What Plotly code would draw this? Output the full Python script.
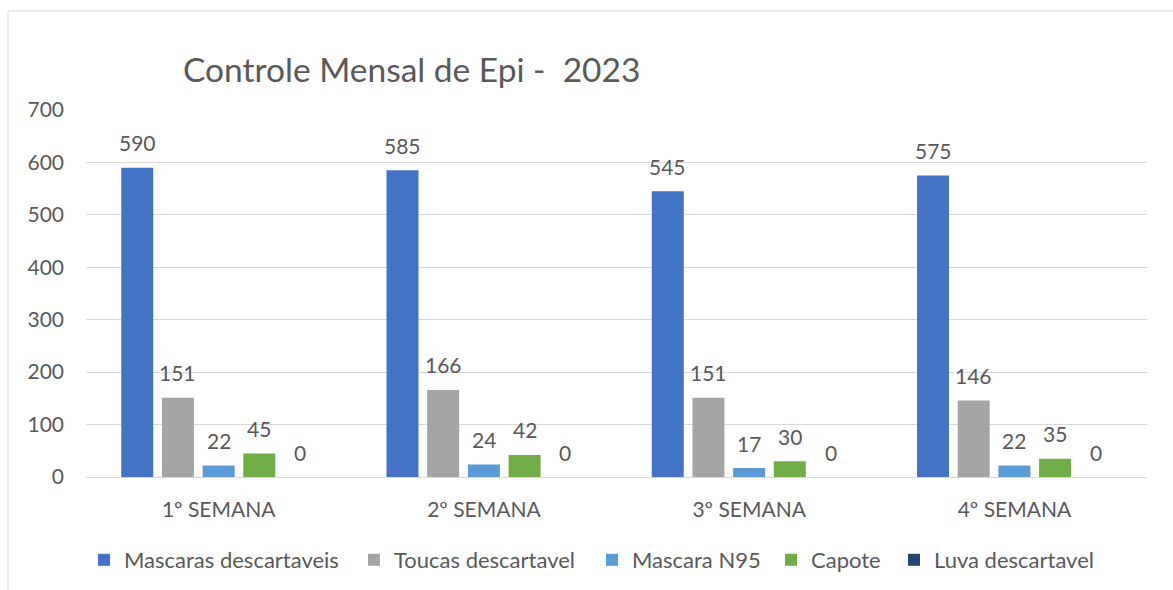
import plotly.graph_objects as go

categories = ["1º SEMANA", "2º SEMANA", "3º SEMANA", "4º SEMANA"]
series_names = ["Mascaras descartaveis", "Toucas descartavel", "Mascara N95", "Capote", "Luva descartavel"]
mascaras = [590, 585, 545, 575]
toucas = [151, 166, 151, 146]
n95 = [22, 24, 17, 22]
capote = [45, 42, 30, 35]
luva = [0, 0, 0, 0]
y_ticks = [0, 100, 200, 300, 400, 500, 600, 700]

colors = ["#4472C4", "#A5A5A5", "#5B9BD5", "#70AD47", "#264478"]
values = [mascaras, toucas, n95, capote, luva]

W, H = 1173, 590
ML, MR, MT, MB = 86, 26, 110, 113
BARGAP = 0.233
BARGROUPGAP = 0.214
FONT = "Lato"
TXT = "#595959"
legend_px = [98, 368, 606, 785, 908]   # left pixel of each legend entry
LEG_OFF = 14

fig = go.Figure()
for i, (name, vals, col) in enumerate(zip(series_names, values, colors)):
    fig.add_trace(go.Bar(name=name, x=categories, y=vals, marker_color=col,
                         marker_line_width=0, showlegend=True,
                         legend="legend" if i == 0 else f"legend{i + 1}"))

plot_w = W - ML - MR
cat_px = plot_w / len(categories)
slot_px = cat_px * (1 - BARGAP) / len(series_names)
n = len(series_names)
for i, vals in enumerate(values):
    for c, v in zip(categories, vals):
        fig.add_annotation(x=c, y=v, text=str(v), showarrow=False,
                           xshift=(i - (n - 1) / 2) * slot_px, yshift=25,
                           yanchor="middle",
                           font=dict(family=FONT, size=21, color=TXT))

fig.add_shape(type="rect", xref="paper", yref="paper",
              x0=(8 - ML) / plot_w, x1=1.2,
              y0=-0.5, y1=(H - MB - 11) / (H - MT - MB),
              line=dict(color="#D9D9D9", width=1), fillcolor="rgba(0,0,0,0)",
              layer="below")

legends = {}
for i, px in enumerate(legend_px):
    key = "legend" if i == 0 else f"legend{i + 1}"
    legends[key] = dict(orientation="h", x=(px - LEG_OFF) / W, xanchor="left", xref="container",
                        y=1 - 560 / H, yanchor="middle", yref="container",
                        font=dict(family=FONT, size=22, color=TXT), itemclick=False,
                        bgcolor="rgba(0,0,0,0)")

fig.update_layout(
    width=W, height=H,
    showlegend=True,
    margin=dict(l=ML, r=MR, t=MT, b=MB),
    paper_bgcolor="white", plot_bgcolor="white",
    barmode="group", bargap=BARGAP, bargroupgap=BARGROUPGAP,
    font=dict(family=FONT, size=21, color=TXT),
    title=dict(text="Controle Mensal de Epi - \u00a02023", x=183 / W, xanchor="left",
               xref="container", y=1 - 70 / H, yanchor="middle", yref="container",
               font=dict(family=FONT, size=33.5, color=TXT)),
    xaxis=dict(showgrid=False, ticks="", showline=False, ticklabelstandoff=18,
               tickfont=dict(family=FONT, size=21, color=TXT)),
    yaxis=dict(range=[0, 700], tickvals=y_ticks, showgrid=True, gridcolor="#D9D9D9",
               gridwidth=1, zeroline=True, zerolinecolor="#D9D9D9", zerolinewidth=1,
               ticks="", showline=False, ticklabelstandoff=21,
               tickfont=dict(family=FONT, size=21, color=TXT)),
    **legends,
)

fig.write_html("out.html", config={"displayModeBar": False},
               post_script="document.body.style.margin='0';document.body.style.overflow='hidden';")
